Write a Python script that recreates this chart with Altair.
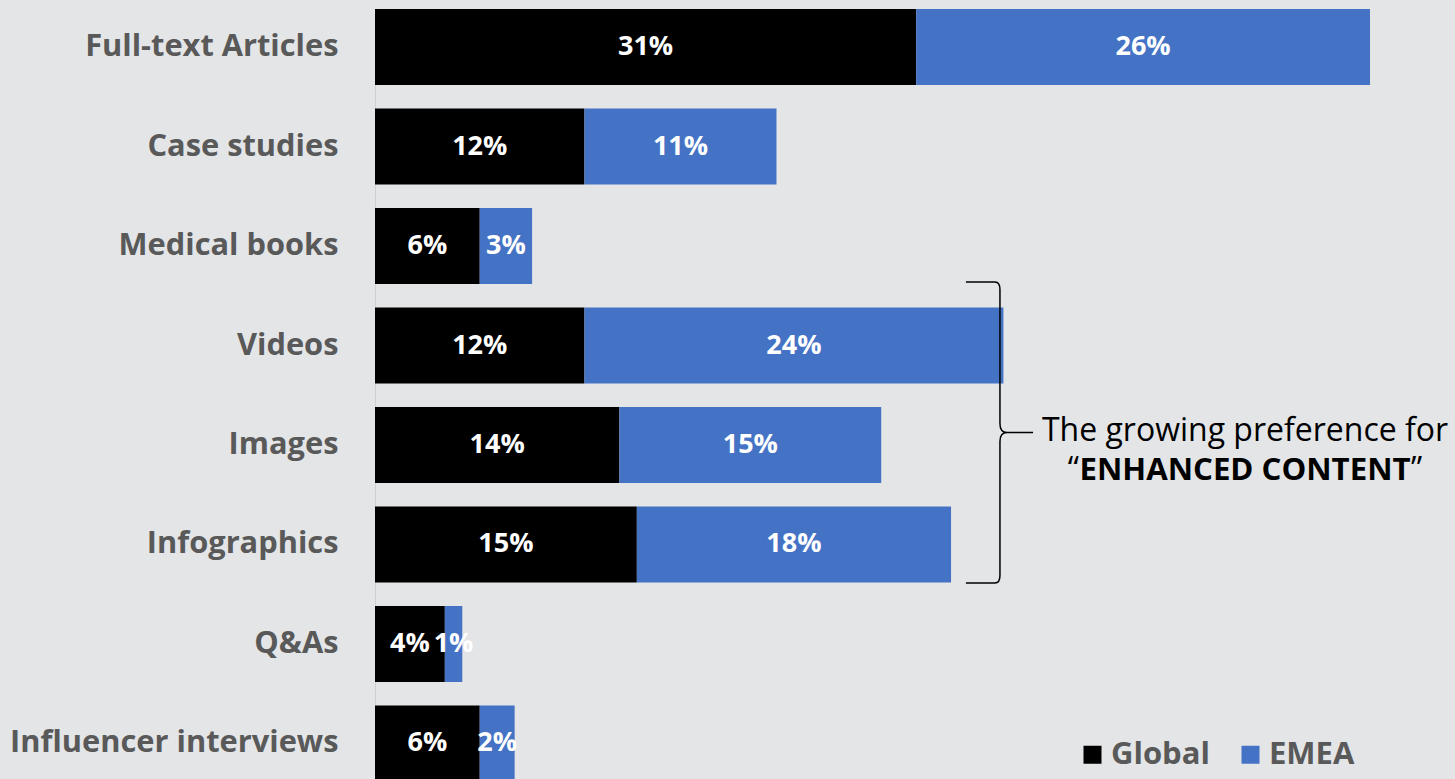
import altair as alt
import pandas as pd

categories = ["Full-text Articles", "Case studies", "Medical books", "Videos",
              "Images", "Infographics", "Q&As", "Influencer interviews"]
global_vals = [31, 12, 6, 12, 14, 15, 4, 6]
emea_vals = [26, 11, 3, 24, 15, 18, 1, 2]
series = ["Global", "EMEA"]
colors = ["#000000", "#4472C4"]

rows = []
for c, g, e in zip(categories, global_vals, emea_vals):
    rows.append({"category": c, "series": "Global", "ord": 0, "value": g})
    rows.append({"category": c, "series": "EMEA", "ord": 1, "value": e})
df = pd.DataFrame(rows)

FONT = "Open Sans"
LEFT = 375
W = 1455 - LEFT
H = 779
GREY = "#595959"

x_scale = alt.Scale(domain=[0, 61.87], nice=False, zero=True)
y_scale = alt.Scale(range=[9, 781.5], paddingInner=0.236, paddingOuter=0)

base = alt.Chart(df).transform_stack(
    stack="value", groupby=["category"], as_=["x0", "x1"],
    sort=[alt.SortField("ord", order="ascending")]
).transform_calculate(
    mid="(datum.x0 + datum.x1) / 2", label="datum.value + '%'"
)

y_enc = alt.Y(
    "category:N", sort=categories, scale=y_scale,
    axis=alt.Axis(title=None, labelFont=FONT, labelFontSize=30.8, labelFontWeight="bold",
                  labelColor=GREY, labelPadding=37, ticks=False, domain=True,
                  domainColor="#CDD0D3", domainWidth=1, grid=False,
                  minExtent=LEFT, maxExtent=LEFT, labelLimit=400),
)

bars = base.mark_bar(clip=True).encode(
    x=alt.X("x0:Q", scale=x_scale, axis=None, stack=None),
    x2="x1:Q",
    y=y_enc,
    color=alt.Color(
        "series:N", scale=alt.Scale(domain=series, range=colors),
        legend=alt.Legend(title=None, orient="none", legendX=702, legendY=739,
                          direction="horizontal", symbolType="square", symbolSize=324,
                          symbolStrokeWidth=0, labelFont=FONT, labelFontSize=31,
                          labelFontWeight="bold", labelColor=GREY, labelOffset=3,
                          columnPadding=25, padding=0, symbolOpacity=1),
    ),
)

labels = base.mark_text(font=FONT, fontSize=27, fontWeight="bold", color="white",
                        baseline="middle", align="center").encode(
    x=alt.X("mid:Q", scale=x_scale, axis=None),
    y=alt.Y("category:N", sort=categories, scale=y_scale),
    text="label:N",
)

ann = pd.DataFrame({"k": [0]})
BRACE = ("M-0.223,-1 L-0.03,-1 Q0.003,-1 0.003,-0.95 L0.003,-0.06 "
         "Q0.003,0 0.05,0 L0.223,0 M0.05,0 Q0.003,0 0.003,0.06 "
         "L0.003,0.95 Q0.003,1 -0.03,1 L-0.223,1")
brace = alt.Chart(ann).mark_point(shape=BRACE, size=90601, filled=False, color="black",
                                  strokeWidth=1.5, opacity=1).encode(
    x=alt.value(999.5 - LEFT), y=alt.value(432.5))

line1 = alt.Chart(ann).mark_text(text="The growing preference for", font=FONT, fontSize=32,
                                 color="black", align="center", baseline="alphabetic").encode(
    x=alt.value(1245 - LEFT), y=alt.value(441))
line2 = alt.Chart(ann).mark_text(text="ENHANCED CONTENT", font=FONT, fontSize=31.2,
                                 fontWeight="bold", color="black", align="center",
                                 baseline="alphabetic").encode(
    x=alt.value(1245 - LEFT), y=alt.value(480))
q1 = alt.Chart(ann).mark_text(text="\u201c", font=FONT, fontSize=32, color="black",
                              align="right", baseline="alphabetic").encode(
    x=alt.value(1079 - LEFT), y=alt.value(480))
q2 = alt.Chart(ann).mark_text(text="\u201d", font=FONT, fontSize=32, color="black",
                              align="left", baseline="alphabetic").encode(
    x=alt.value(1411 - LEFT), y=alt.value(480))

chart = alt.layer(bars, labels, brace, line1, line2, q1, q2).properties(
    width=W, height=H, padding=0, background="#E3E5E7"
).configure_view(stroke=None)

chart.save("out.html", embed_options={"renderer": "svg", "actions": False})
